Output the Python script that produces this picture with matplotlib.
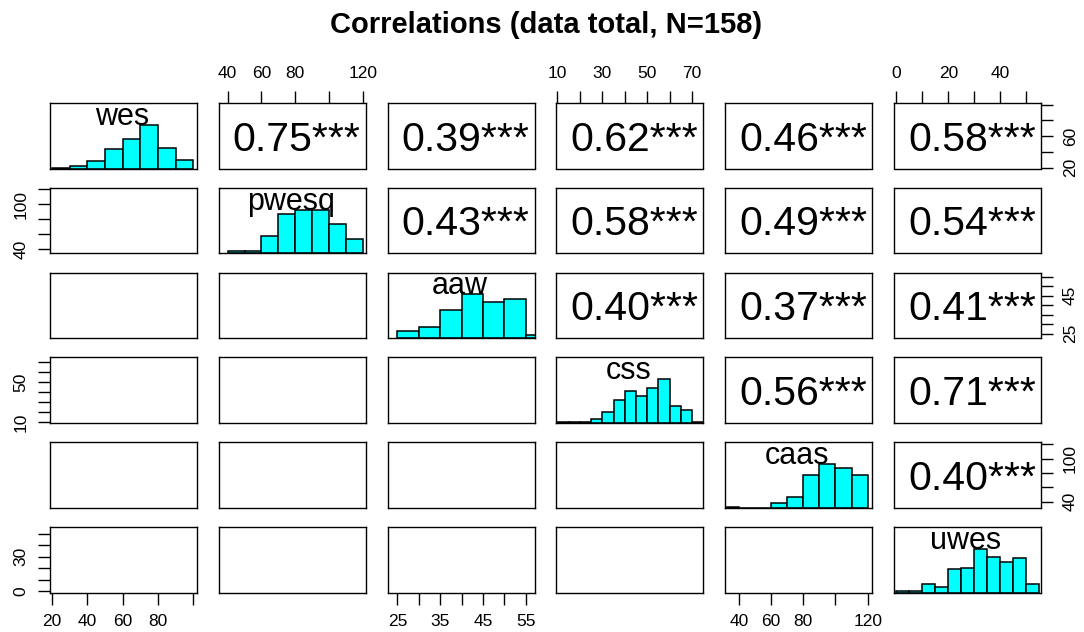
import matplotlib
matplotlib.use("Agg")
import matplotlib.pyplot as plt
import numpy as np

plt.rcParams['font.family'] = ['Liberation Sans', 'DejaVu Sans']

# variables (diagonal), order of the matrix
names = ["wes", "pwesq", "aaw", "css", "caas", "uwes"]

# histogram bins (left edges, width) and counts
hist_start = [20, 40, 25, 10, 30, 0]
hist_width = [10, 10, 5, 5, 10, 5]
hist_counts = [
    [1, 3, 9, 23, 35, 52, 25, 10],
    [2, 2, 14, 32, 36, 36, 24, 12],
    [7, 10, 26, 41, 34, 37, 3],
    [1, 1, 1, 3, 8, 17, 24, 20, 26, 33, 13, 10, 1],
    [1, 0, 0, 5, 10, 31, 42, 38, 31],
    [1, 1, 6, 4, 17, 18, 32, 26, 22, 25, 6],
]

# axis ranges of each variable
ranges = [(18.9, 102), (34.7, 121.8), (22.7, 57.1), (9.56, 75.0), (31.5, 122.8), (-0.9, 55.7)]

# tick values and which labels R kept
ticks = [
    [20, 40, 60, 80, 100],
    [40, 60, 80, 100, 120],
    [25, 30, 35, 40, 45, 50, 55],
    [10, 20, 30, 40, 50, 60, 70],
    [40, 60, 80, 100, 120],
    [0, 10, 20, 30, 40, 50],
]
xlabels = [
    ["20", "40", "60", "80", ""],
    ["40", "60", "80", "", "120"],
    ["25", "", "35", "", "45", "", "55"],
    ["10", "", "30", "", "50", "", "70"],
    ["40", "60", "80", "", "120"],
    ["0", "", "20", "", "40", ""],
]
ylabels = [
    ["20", "", "60", "", ""],
    ["40", "", "", "100", ""],
    ["25", "", "", "", "45", "", ""],
    ["10", "", "", "", "50", "", ""],
    ["40", "", "", "100", ""],
    ["0", "", "", "30", "", ""],
]

# upper triangle correlations (row i, col j>i)
corr = {
    (0, 1): "0.75***", (0, 2): "0.39***", (0, 3): "0.62***", (0, 4): "0.46***", (0, 5): "0.58***",
    (1, 2): "0.43***", (1, 3): "0.58***", (1, 4): "0.49***", (1, 5): "0.54***",
    (2, 3): "0.40***", (2, 4): "0.37***", (2, 5): "0.41***",
    (3, 4): "0.56***", (3, 5): "0.71***",
    (4, 5): "0.40***",
}

W, H = 1084, 632
fig = plt.figure(figsize=(W / 100, H / 100), dpi=100)
fig.text(546 / W, 1 - 25 / H, "Correlations (data total, N=158)", ha='center', va='center',
         fontsize=21, fontweight='bold')

n = len(names)
pw, ph = 147, 65.5
for i in range(n):
    for j in range(n):
        x0 = 50 + j * 168.8
        y0 = 103 + i * 84.8
        ax = fig.add_axes([x0 / W, 1 - (y0 + ph) / H, pw / W, ph / H])
        for s in ax.spines.values():
            s.set_linewidth(1.0)
        ax.tick_params(length=8.6, width=1.0, labelsize=12.5, direction='out', pad=7)
        ax.set_xticks([])
        ax.set_yticks([])
        ax.set_xlim(*ranges[j])
        if i == j:
            counts = np.array(hist_counts[i], dtype=float)
            left = hist_start[i] + hist_width[i] * np.arange(len(counts))
            ax.bar(left, counts / counts.max(), width=hist_width[i], align='edge',
                   color='#00FFFF', edgecolor='black', linewidth=1.1)
            ax.set_ylim(0, 1.5)
            ax.text(0.49, 0.79, names[i], transform=ax.transAxes, ha='center', va='center',
                    fontsize=22)
        else:
            ax.set_ylim(*ranges[i])
            if j > i:
                ax.text(0.53, 0.44, corr[(i, j)], transform=ax.transAxes, ha='center',
                        va='center', fontsize=29.5)
        # outer axes, alternating sides like pairs()
        if i == 0 and j % 2 == 1:
            ax.xaxis.set_ticks_position('top')
            ax.set_xticks(ticks[j], xlabels[j])
        if i == n - 1 and j % 2 == 0:
            ax.set_xticks(ticks[j], xlabels[j])
        if j == 0 and i % 2 == 1:
            ax.set_yticks(ticks[i], ylabels[i], rotation=90, va='center')
        if j == n - 1 and i % 2 == 0:
            ax.yaxis.set_ticks_position('right')
            ax.set_yticks(ticks[i], ylabels[i], rotation=90, va='center')

plt.savefig("out.png", dpi=100, facecolor='white')
